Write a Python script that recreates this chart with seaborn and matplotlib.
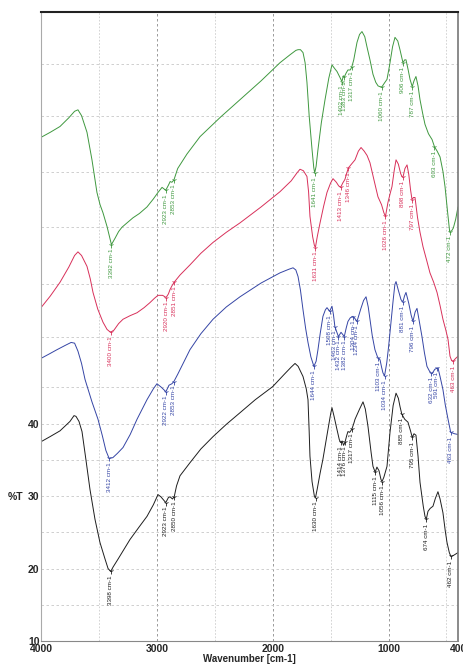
import numpy as np
import matplotlib
matplotlib.use("Agg")
import matplotlib.pyplot as plt
import seaborn as sns

# IR spectra (wavenumber in cm-1, transmittance %T)
green_wn = [4000, 3920, 3836, 3760, 3710, 3681, 3650, 3603, 3560, 3517, 3490, 3465, 3430, 3392, 3360,
            3330, 3301, 3250, 3206, 3150, 3085, 3030, 2990, 2955, 2923, 2900, 2885, 2870, 2853, 2820,
            2740, 2627, 2450, 2282, 2100, 1937, 1850, 1800, 1781, 1760, 1738, 1720, 1704, 1685, 1660,
            1645, 1637, 1625, 1609, 1580, 1548, 1515, 1488, 1465, 1445, 1420, 1402, 1390, 1383, 1365,
            1350, 1330, 1317, 1300, 1285, 1272, 1250, 1229, 1205, 1186, 1160, 1134, 1110, 1090, 1060,
            1035, 1013, 990, 965, 944, 920, 901, 875, 860, 849, 830, 814, 795, 780, 763, 745, 728, 705,
            685, 655, 624, 603, 580, 555, 530, 512, 495, 486, 472, 455, 440, 420, 400]
green_t = [79.5, 80.2, 81.0, 82.2, 83.1, 83.3, 82.5, 80.2, 76.4, 71.9, 70.2, 69.1, 67.2, 64.7, 65.6,
           66.5, 67.1, 67.8, 68.4, 69.0, 69.9, 71.0, 71.9, 72.6, 72.2, 72.9, 73.4, 73.3, 73.6, 75.2,
           77.2, 79.6, 82.3, 84.7, 87.3, 89.8, 90.9, 91.5, 91.6, 91.6, 91.2, 89.8, 87.1, 82.5, 77.8,
           75.3, 74.6, 75.5, 77.8, 81.5, 84.7, 87.7, 89.5, 89.0, 88.6, 87.8, 87.2, 88.0, 87.8, 88.4,
           88.8, 88.8, 89.2, 90.2, 91.5, 92.6, 93.7, 94.1, 93.4, 92.0, 90.2, 88.2, 87.1, 86.6, 86.4,
           87.0, 87.5, 89.5, 92.0, 93.3, 92.8, 91.6, 89.8, 90.2, 90.2, 88.8, 87.5, 86.5, 87.3, 87.9, 86.6,
           84.7, 82.8, 81.3, 80.0, 79.2, 78.2, 77.6, 76.8, 74.8, 72.7, 70.0, 68.6, 66.5, 66.6, 67.0,
           68.2, 69.9]
green_peaks = [3392, 2923, 2853, 1637, 1402, 1383, 1317, 1060, 875, 795, 603, 472]
green_names = ["3392", "2923", "2853", "1641", "1402", "1383", "1317", "1060", "906", "787", "603", "472"]

red_wn = [4000, 3920, 3836, 3760, 3710, 3681, 3650, 3603, 3575, 3551, 3510, 3465, 3430, 3400, 3370,
          3330, 3292, 3230, 3171, 3110, 3059, 3020, 2990, 2950, 2920, 2900, 2886, 2870, 2851, 2800,
          2714, 2620, 2515, 2400, 2282, 2100, 1937, 1840, 1790, 1764, 1735, 1704, 1690, 1678, 1655,
          1640, 1631, 1615, 1591, 1560, 1531, 1500, 1479, 1450, 1430, 1413, 1395, 1376, 1360, 1346,
          1320, 1289, 1260, 1237, 1210, 1185, 1160, 1125, 1091, 1060, 1040, 1026, 1005, 985, 970, 950,
          935, 915, 895, 884, 875, 858, 840, 825, 810, 797, 785, 771, 750, 728, 702, 670, 642, 610,
          581, 555, 530, 505, 486, 469, 455, 443, 420, 400]
red_t = [56.0, 57.6, 59.5, 61.6, 63.2, 63.7, 63.2, 61.7, 60.0, 58.1, 55.8, 54.0, 53.0, 52.6, 52.9,
         53.8, 54.4, 54.9, 55.3, 56.0, 56.7, 57.3, 57.7, 57.7, 57.4, 57.9, 58.5, 59.0, 59.5, 60.5,
         61.9, 63.5, 65.0, 66.4, 67.7, 69.9, 72.0, 73.5, 74.6, 75.1, 74.9, 74.1, 72.0, 68.6, 65.8,
         64.6, 64.3, 65.8, 67.7, 70.0, 71.9, 73.2, 73.8, 73.3, 72.8, 72.6, 73.2, 73.7, 74.6, 75.3,
         75.8, 76.4, 77.6, 78.1, 77.6, 77.0, 76.0, 73.6, 71.3, 70.2, 69.1, 68.6, 70.5, 71.8, 72.7, 75.0,
         76.4, 75.8, 74.5, 74.1, 74.0, 75.2, 75.7, 74.4, 72.3, 70.9, 71.2, 71.2, 68.5, 66.4, 64.4, 62.5,
         60.8, 59.5, 58.1, 56.3, 54.4, 52.9, 51.6, 49.3, 48.7, 48.6, 49.0, 49.3]
red_peaks = [3400, 2920, 2851, 1631, 1413, 1346, 1026, 875, 797, 443]
red_names = ["3400", "2920", "2851", "1631", "1413", "1346", "1026", "898", "797", "463"]

blue_wn = [4000, 3930, 3862, 3790, 3740, 3710, 3681, 3650, 3620, 3560, 3508, 3470, 3440, 3412, 3380,
           3340, 3292, 3230, 3171, 3085, 3030, 2999, 2960, 2922, 2895, 2870, 2853, 2820, 2770, 2714,
           2620, 2515, 2400, 2282, 2100, 1937, 1860, 1824, 1800, 1781, 1760, 1738, 1715, 1695, 1670,
           1644, 1625, 1609, 1590, 1566, 1545, 1531, 1508, 1488, 1475, 1463, 1448, 1432, 1410, 1395,
           1382, 1365, 1350, 1330, 1306, 1290, 1272, 1240, 1215, 1194, 1175, 1160, 1140, 1117, 1095,
           1073, 1060, 1048, 1034, 1015, 1000, 987, 960, 945, 935, 915, 892, 875, 862, 849, 825, 805,
           789, 770, 754, 735, 711, 690, 668, 645, 624, 600, 573, 555, 530, 510, 486, 463, 430, 400]
blue_t = [49.0, 49.6, 50.2, 50.8, 51.2, 51.1, 50.0, 48.3, 46.1, 43.0, 40.6, 38.3, 36.3, 35.2, 35.3,
          35.9, 36.7, 38.5, 40.6, 43.3, 44.8, 45.5, 45.0, 44.4, 45.3, 45.5, 45.8, 46.8, 48.4, 50.2,
          52.4, 54.4, 56.1, 57.5, 59.4, 60.8, 61.3, 61.5, 61.2, 60.3, 58.4, 55.7, 53.1, 51.2, 49.2,
          47.9, 48.6, 50.2, 52.4, 54.8, 55.7, 56.0, 55.5, 56.2, 55.0, 53.4, 52.7, 52.0, 52.6, 52.3,
          52.0, 53.2, 54.1, 54.6, 54.8, 54.5, 54.1, 55.8, 57.0, 57.5, 56.1, 54.4, 52.1, 50.2, 49.2,
          48.8, 47.8, 47.0, 46.6, 48.4, 50.5, 52.6, 57.0, 59.2, 59.6, 58.4, 57.1, 56.8, 57.6, 58.1,
          56.6, 55.0, 54.1, 55.4, 55.9, 54.2, 52.0, 49.8, 47.9, 47.2, 46.9, 47.5, 47.7, 46.5, 44.7,
          42.6, 40.6, 38.8, 38.6, 38.5]
blue_peaks = [3412, 2922, 2853, 1644, 1508, 1463, 1432, 1382, 1304, 1272, 1090, 1034, 875, 789, 632, 582, 463]
blue_names = ["3412", "2922", "2853", "1644", "1508", "1463", "1432", "1382", "1304", "1234", "1103",
              "1034", "881", "796", "632", "591", "463"]

black_wn = [4000, 3922, 3836, 3750, 3715, 3698, 3672, 3646, 3612, 3577, 3534, 3491, 3447, 3421, 3398,
            3378, 3335, 3232, 3150, 3085, 3030, 2990, 2965, 2923, 2900, 2886, 2865, 2850, 2830, 2800,
            2714, 2620, 2515, 2400, 2282, 2150, 2000, 1900, 1840, 1807, 1780, 1738, 1710, 1695, 1685,
            1678, 1660, 1640, 1630, 1615, 1590, 1566, 1530, 1500, 1488, 1470, 1445, 1425, 1414, 1400,
            1388, 1376, 1360, 1350, 1335, 1317, 1300, 1289, 1250, 1220, 1200, 1177, 1150, 1134, 1115,
            1100, 1082, 1065, 1056, 1040, 1013, 987, 960, 935, 915, 900, 885, 860, 832, 810, 795, 780,
            763, 745, 728, 700, 685, 674, 659, 640, 616, 595, 573, 555, 530, 510, 495, 475, 462, 440,
            420, 400]
black_t = [37.5, 38.2, 39.0, 40.3, 41.1, 41.0, 40.3, 38.9, 35.0, 30.9, 26.8, 23.6, 21.3, 20.0, 19.6,
           20.2, 21.3, 24.0, 25.8, 27.2, 28.8, 30.2, 29.9, 29.1, 29.8, 29.9, 29.6, 29.9, 31.4, 32.8,
           34.6, 36.5, 38.2, 39.9, 41.5, 43.3, 45.1, 46.8, 47.8, 48.3, 47.9, 46.5, 44.8, 43.3, 39.0,
           35.5, 32.0, 30.0, 29.8, 31.0, 33.2, 35.1, 38.5, 41.3, 42.2, 41.0, 39.2, 37.8, 37.4, 37.6,
           37.0, 37.4, 38.4, 38.9, 38.8, 39.2, 40.0, 40.6, 42.0, 43.0, 42.0, 39.6, 36.0, 34.1, 33.3,
           34.0, 33.5, 32.3, 32.0, 32.6, 34.1, 38.8, 42.5, 44.2, 43.5, 42.3, 41.3, 40.6, 40.2, 39.0,
           38.1, 38.6, 38.4, 35.5, 31.9, 28.6, 27.2, 26.8, 27.9, 28.3, 28.6, 29.7, 30.6, 29.6, 27.7,
           25.2, 23.6, 22.2, 21.7, 21.8, 22.0, 22.2]
black_peaks = [3398, 2923, 2850, 1630, 1414, 1376, 1317, 1115, 1056, 885, 795, 674, 462]
black_names = ["3398", "2923", "2850", "1630", "1414", "1376", "1317", "1115", "1056", "885", "795",
               "674", "462"]

x_major = [4000, 3000, 2000, 1000, 400]
x_minor = [3500, 2500, 1500, 500]
y_major = [10, 20, 30, 40]
y_grid = [15, 25, 35, 45, 52, 59.3, 67.1, 74.7, 82.4, 89.6]

sns.set_style("white")
plt.rcParams["font.family"] = ["Liberation Sans", "DejaVu Sans"]

fig = plt.figure(figsize=(4.64, 6.66), dpi=100)
ax = fig.add_axes([41 / 464, 25 / 666, 417 / 464, 629 / 666])

series = [
    (green_wn, green_t, green_peaks, green_names, "#3f983f"),
    (red_wn, red_t, red_peaks, red_names, "#d8305a"),
    (blue_wn, blue_t, blue_peaks, blue_names, "#3545a5"),
    (black_wn, black_t, black_peaks, black_names, "#1e1e1e"),
]

for wn, t, peaks, names, col in series:
    sns.lineplot(x=wn, y=t, color=col, lw=0.7, sort=False, ax=ax)
    wn_a = np.array(wn)[::-1]
    t_a = np.array(t)[::-1]
    for p, name in zip(peaks, names):
        yp = np.interp(p, wn_a, t_a)
        ax.plot(p, yp, marker="1", ms=4, mew=0.6, color=col)
        ax.annotate(name + " cm-1", xy=(p, yp), xytext=(0, -3), textcoords="offset points",
                    rotation=90, ha="center", va="top", fontsize=4.5, color=col)

ax.set_xlim(4000, 400)
ax.set_ylim(10, 96.8)
ax.set_xticks(x_major)
ax.set_xticks(x_minor, minor=True)
ax.set_yticks(y_major)
ax.set_yticks(y_grid, minor=True)
ax.tick_params(axis="both", which="both", direction="in", length=3, width=0.6, color="#333333",
               labelsize=7.5, pad=1)
ax.tick_params(axis="x", which="major", pad=2.5)
for lab in ax.get_xticklabels() + ax.get_yticklabels():
    lab.set_fontweight("bold")

ax.grid(which="major", axis="x", ls=(0, (3, 3)), color="#8a8a8a", lw=0.6)
ax.grid(which="minor", axis="x", ls=(0, (2, 2)), color="#cccccc", lw=0.6)
ax.grid(which="both", axis="y", ls=(0, (3, 3)), color="#c8c8c8", lw=0.6)

ax.spines["top"].set_color("#222222")
ax.spines["top"].set_linewidth(1.5)
ax.spines["left"].set_color("#aaaaaa")
ax.spines["bottom"].set_color("#888888")
ax.spines["right"].set_color("#777777")
ax.spines["right"].set_linewidth(1.2)

ax.set_xlabel("Wavenumber [cm-1]", fontsize=7, fontweight="bold", labelpad=0)
ax.set_ylabel("%T", rotation=0, fontsize=7.5, fontweight="bold", ha="center", va="center")
ax.yaxis.set_label_coords(-0.06, 0.229)

fig.savefig("out.png", dpi=100)
